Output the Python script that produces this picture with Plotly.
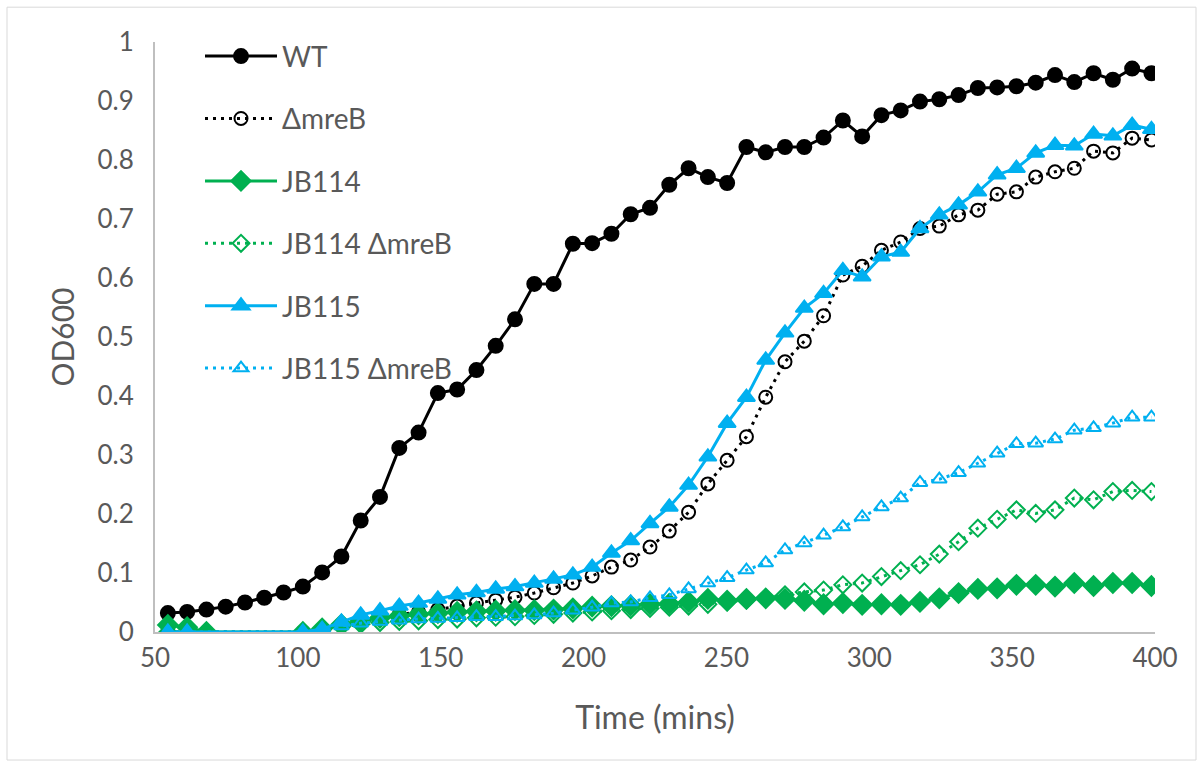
import plotly.graph_objects as go

# Sampling times (minutes)
time_mins = [54.5, 61.25, 68, 74.75, 81.5, 88.25, 95, 101.75, 108.5, 115.25,
             122, 128.75, 135.5, 142.25, 149, 155.75, 162.5, 169.25, 176, 182.75,
             189.5, 196.25, 203, 209.75, 216.5, 223.25, 230, 236.75, 243.5, 250.25,
             257, 263.75, 270.5, 277.25, 284, 290.75, 297.5, 304.25, 311, 317.75,
             324.5, 331.25, 338, 344.75, 351.5, 358.25, 365, 371.75, 378.5, 385.25,
             392, 398.75]

# OD600 readings per strain (None = no reading at that time point)
wt = [0.032, 0.034, 0.038, 0.043, 0.050, 0.058, 0.067, 0.077, 0.101, 0.128,
      0.189, 0.229, 0.312, 0.338, 0.405, 0.411, 0.444, 0.485, 0.530, 0.590,
      0.590, 0.658, 0.659, 0.675, 0.708, 0.719, 0.758, 0.786, 0.771, 0.761,
      0.822, 0.813, 0.822, 0.822, 0.838, 0.867, 0.840, 0.876, 0.884, 0.899,
      0.903, 0.910, 0.922, 0.923, 0.925, 0.931, 0.944, 0.932, 0.947, 0.936,
      0.955, 0.947]

mreb = [0.000, 0.000, None, None, None, None, None, 0.000, 0.003, 0.012,
        0.020, 0.025, 0.030, 0.034, 0.038, 0.044, 0.049, 0.054, 0.059, 0.066,
        0.075, 0.083, 0.095, 0.110, 0.122, 0.144, 0.171, 0.203, 0.251, 0.291,
        0.331, 0.398, 0.458, 0.493, 0.536, 0.605, 0.620, 0.647, 0.661, 0.684,
        0.688, 0.707, 0.715, 0.742, 0.746, 0.771, 0.780, 0.786, 0.815, 0.812,
        0.837, 0.834]

jb114 = [0.012, 0.008, 0.000, None, None, None, None, 0.000, 0.006, 0.013,
         0.019, 0.024, 0.027, 0.030, 0.032, 0.034, 0.035, 0.036, 0.037, 0.037,
         0.038, 0.040, 0.043, 0.044, 0.045, 0.047, 0.048, 0.051, 0.056, 0.053,
         0.056, 0.057, 0.056, 0.053, 0.047, 0.049, 0.046, 0.047, 0.046, 0.051,
         0.057, 0.066, 0.073, 0.074, 0.080, 0.080, 0.077, 0.083, 0.078, 0.083,
         0.083, 0.078]

jb114_mreb = [0.000, None, None, None, None, None, None, 0.000, 0.004, 0.009,
              0.013, 0.016, 0.018, 0.019, 0.021, 0.022, 0.024, 0.025, 0.026, 0.028,
              0.030, 0.032, 0.034, 0.036, 0.038, 0.040, 0.042, 0.044, 0.047, 0.051,
              0.054, 0.058, 0.063, 0.068, 0.071, 0.080, 0.083, 0.094, 0.104, 0.114,
              0.132, 0.153, 0.176, 0.191, 0.207, 0.201, 0.207, 0.227, 0.224, 0.238,
              0.240, 0.238]

jb115 = [0.000, 0.000, None, None, None, None, None, 0.000, 0.005, 0.017,
         0.029, 0.036, 0.044, 0.049, 0.056, 0.063, 0.067, 0.073, 0.077, 0.083,
         0.090, 0.097, 0.110, 0.134, 0.155, 0.184, 0.212, 0.249, 0.297, 0.354,
         0.398, 0.461, 0.507, 0.549, 0.574, 0.613, 0.602, 0.636, 0.644, 0.684,
         0.707, 0.724, 0.746, 0.775, 0.786, 0.812, 0.825, 0.824, 0.844, 0.841,
         0.859, 0.852]

jb115_mreb = [0.000, None, None, None, None, None, None, 0.000, 0.002, 0.010,
              0.015, 0.018, 0.020, 0.022, 0.023, 0.024, 0.026, 0.026, 0.027, 0.029,
              0.032, 0.037, 0.042, 0.049, 0.051, 0.058, 0.063, 0.073, 0.083, 0.092,
              0.105, 0.117, 0.139, 0.151, 0.164, 0.178, 0.195, 0.212, 0.227, 0.253,
              0.259, 0.270, 0.286, 0.303, 0.319, 0.320, 0.327, 0.342, 0.346, 0.354,
              0.364, 0.364]

x_ticks = [50, 100, 150, 200, 250, 300, 350, 400]
y_ticks = [0, 0.1, 0.2, 0.3, 0.4, 0.5, 0.6, 0.7, 0.8, 0.9, 1]
y_tick_text = ["0", "0.1", "0.2", "0.3", "0.4", "0.5", "0.6", "0.7", "0.8", "0.9", "1"]

BLACK = "#000000"
GREEN = "#00B050"
BLUE = "#00B0F0"
TEXT = "#595959"
AXIS = "#BFBFBF"
DOTS = "3px,5px"

series = [
    ("WT", wt, BLACK, "solid", "circle", 14),
    ("\u0394mreB", mreb, BLACK, DOTS, "circle-open", 13),
    ("JB114", jb114, GREEN, "solid", "diamond", 15),
    ("JB114 \u0394mreB", jb114_mreb, GREEN, DOTS, "diamond-open", 13),
    ("JB115", jb115, BLUE, "solid", "triangle-up", 15),
    ("JB115 \u0394mreB", jb115_mreb, BLUE, DOTS, "triangle-up-open", 13),
]

fig = go.Figure()
for i, (name, vals, color, dash, symbol, size) in enumerate(series):
    fig.add_trace(go.Scatter(
        x=time_mins, y=vals, name=name, mode="lines+markers",
        connectgaps=True, legendgroup=f"g{i}",
        line=dict(color=color, width=3, dash=dash),
        marker=dict(symbol=symbol, size=size, color=color,
                    line=dict(color=color, width=2)),
    ))

FONT = "Lato, 'Open Sans', sans-serif"

fig.update_layout(
    width=1203, height=767,
    margin=dict(l=155, r=48, t=42, b=135),
    paper_bgcolor="white", plot_bgcolor="white",
    font=dict(family=FONT, color=TEXT, size=26),
    showlegend=True,
    legend=dict(
        x=0.045, y=1.018, xanchor="left", yanchor="top",
        bgcolor="rgba(0,0,0,0)", traceorder="grouped", tracegroupgap=23,
        font=dict(family=FONT, size=28, color=TEXT),
        itemwidth=72, maxheight=700,
    ),
    xaxis=dict(
        range=[50, 400], tickvals=x_ticks, showgrid=False, zeroline=False,
        showline=True, linecolor=AXIS, linewidth=2, ticks="",
        tickfont=dict(size=26, color=TEXT), ticklabelstandoff=2,
        title=dict(text="Time (mins)", font=dict(size=32, color=TEXT), standoff=34),
    ),
    yaxis=dict(
        range=[0, 1], tickvals=y_ticks, ticktext=y_tick_text, showgrid=False,
        zeroline=False, showline=True, linecolor=AXIS, linewidth=2, ticks="",
        tickfont=dict(size=26, color=TEXT), ticklabelstandoff=14,
        title=dict(text="OD600", font=dict(size=30, color=TEXT), standoff=14),
    ),
    shapes=[dict(
        type="rect", xref="paper", yref="paper",
        x0=-0.148, x1=1.041, y0=-0.217, y1=1.059,
        line=dict(color="#D9D9D9", width=1), fillcolor="rgba(0,0,0,0)",
        layer="below",
    )],
)

fig.write_html("out.html")
